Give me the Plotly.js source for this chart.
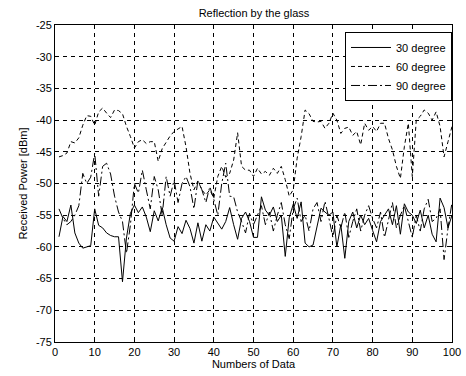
<!DOCTYPE html>
<html>
<head>
<meta charset="utf-8">
<script src="https://cdn.plot.ly/plotly-3.0.1.min.js"></script>
<style>html,body{margin:0;padding:0;background:#fff;}#chart{width:466px;height:376px;}</style>
</head>
<body>
<div id="chart"></div>
<script>
var seriesNames = ["30 degree", "60 degree", "90 degree"];
var deg30 = [-58.4,-55.2,-56,-53.4,-57.8,-59.4,-60.2,-60,-59.8,-54,
  -56.6,-57,-57.8,-58.2,-58.4,-58.4,-65.5,-58.6,-54.7,-53.4,
  -54.6,-53.7,-55.3,-57.6,-54.3,-55.9,-53.8,-56.5,-58.6,-59.1,
  -56.8,-57.9,-55.8,-57.1,-59.4,-56.2,-59.1,-56.5,-57.5,-55.3,
  -56.3,-57.2,-56,-53.8,-56.5,-58.8,-55.5,-54.5,-56,-58.5,
  -58.5,-52.1,-54.2,-55,-53.7,-56,-55,-61.5,-55.4,-53.3,
  -55.5,-52.9,-59.4,-60,-59.7,-57,-53.9,-54.5,-55,-54.5,
  -60,-56.5,-61.8,-56,-54.5,-57,-55,-56.5,-55.5,-57.4,
  -59.2,-56,-55,-54,-56.5,-53.5,-58,-53.2,-54.5,-55,
  -56.3,-54.2,-57,-55,-58,-59.2,-52.3,-53.8,-57,-55];
var deg60 = [-45.8,-45.6,-45.2,-43.4,-43.6,-42.8,-40.8,-39.3,-39.4,-40.8,
  -38.7,-38.1,-38.9,-39.6,-38.4,-38.5,-39,-41,-42.6,-44.4,
  -43.4,-43.1,-43.7,-43.4,-43.4,-46.5,-44.5,-43.4,-42.5,-41.8,
  -41.4,-41,-44.2,-48.4,-51,-49.6,-51,-51.8,-51,-52.3,
  -48.9,-47.3,-49,-48.4,-46.3,-42,-47.3,-47.9,-47.9,-48.9,
  -47.6,-48.5,-48.1,-48.7,-47.6,-48.4,-47.3,-49.4,-52,-51,
  -46,-42.6,-38.4,-39,-40.2,-40.3,-40.2,-41.3,-40.5,-38.9,
  -40,-42.1,-41.3,-41.1,-42.4,-41.8,-43.9,-40.5,-41.6,-41,
  -41.8,-40.5,-40.5,-42.9,-44.7,-47.3,-49.2,-44.2,-40.5,-48.9,
  -40,-39.4,-38.4,-38.9,-40,-38.7,-41,-45.8,-43.4,-41];
var deg90 = [-54,-55.5,-56.5,-56,-55,-53.5,-48.4,-50,-49,-45.2,
  -52,-47.3,-46.8,-48.5,-52,-54.5,-56,-61,-56.5,-50,
  -51.5,-47.9,-51,-54,-48.9,-51,-55,-48.9,-52,-49.5,
  -53,-50,-48.9,-50.5,-54,-49.5,-51,-53,-50.5,-52.5,
  -55,-50,-46.8,-52,-52.1,-54.5,-56,-57.8,-54.7,-56.5,
  -55,-53.5,-56.5,-54.5,-57.5,-55,-53,-56.5,-58.7,-54,
  -52.3,-56,-55,-57.5,-54,-53,-56,-52.8,-55.5,-58.5,
  -55,-57,-54.5,-58.5,-56,-54,-57.5,-55,-53.5,-55.5,
  -57,-54.5,-58.5,-55.5,-53,-57,-55,-53.5,-56,-58.5,
  -55,-57.5,-54,-52.5,-56,-55.5,-54,-62,-57,-53];
var xTicks = [0,10,20,30,40,50,60,70,80,90,100];
var yTicks = [-75,-70,-65,-60,-55,-50,-45,-40,-35,-30,-25];

var dashes = ["solid", "4px,3px", "9px,3px,2px,3px"];
var allSeries = [deg30, deg60, deg90];
var traces = allSeries.map(function(s, i){
  return {y: s, x0: 1, dx: 1, type: "scatter", mode: "lines", name: seriesNames[i],
    line: {color: "#000", width: 1, dash: dashes[i]}};
});

var axisCommon = {showline: true, linecolor: "#000", linewidth: 1, mirror: "allticks",
  ticks: "inside", ticklen: 4, tickcolor: "#000", showgrid: true, gridcolor: "#000",
  gridwidth: 1, griddash: "4px,4px", zeroline: false, tickfont: {size: 11, color: "#000"}};

var layout = {
  width: 466, height: 376,
  margin: {l: 55, r: 14, t: 25, b: 34},
  paper_bgcolor: "#fff", plot_bgcolor: "#fff",
  font: {family: "Liberation Sans, Arial, sans-serif", size: 11, color: "#000"},
  title: {text: "Reflection by the glass", font: {size: 11, color: "#000"}, x: 0.545, xanchor: "center", y: 0.965, yanchor: "middle"},
  xaxis: Object.assign({}, axisCommon, {range: [0, 100], tickvals: xTicks, ticktext: xTicks.map(String),
    title: {text: "Numbers of Data", font: {size: 11}, standoff: 2}}),
  yaxis: Object.assign({}, axisCommon, {range: [-75, -25], tickvals: yTicks, ticktext: yTicks.map(String),
    title: {text: "Received Power [dBm]", font: {size: 11}, standoff: 6}}),
  showlegend: true,
  legend: {x: 1, xanchor: "right", y: 0.978, yanchor: "top", bgcolor: "#fff", bordercolor: "#000",
    borderwidth: 1, font: {size: 11, color: "#000"}, tracegroupgap: 0, itemwidth: 40}
};
Plotly.newPlot("chart", traces, layout, {displayModeBar: false, staticPlot: true});
</script>
</body>
</html>
